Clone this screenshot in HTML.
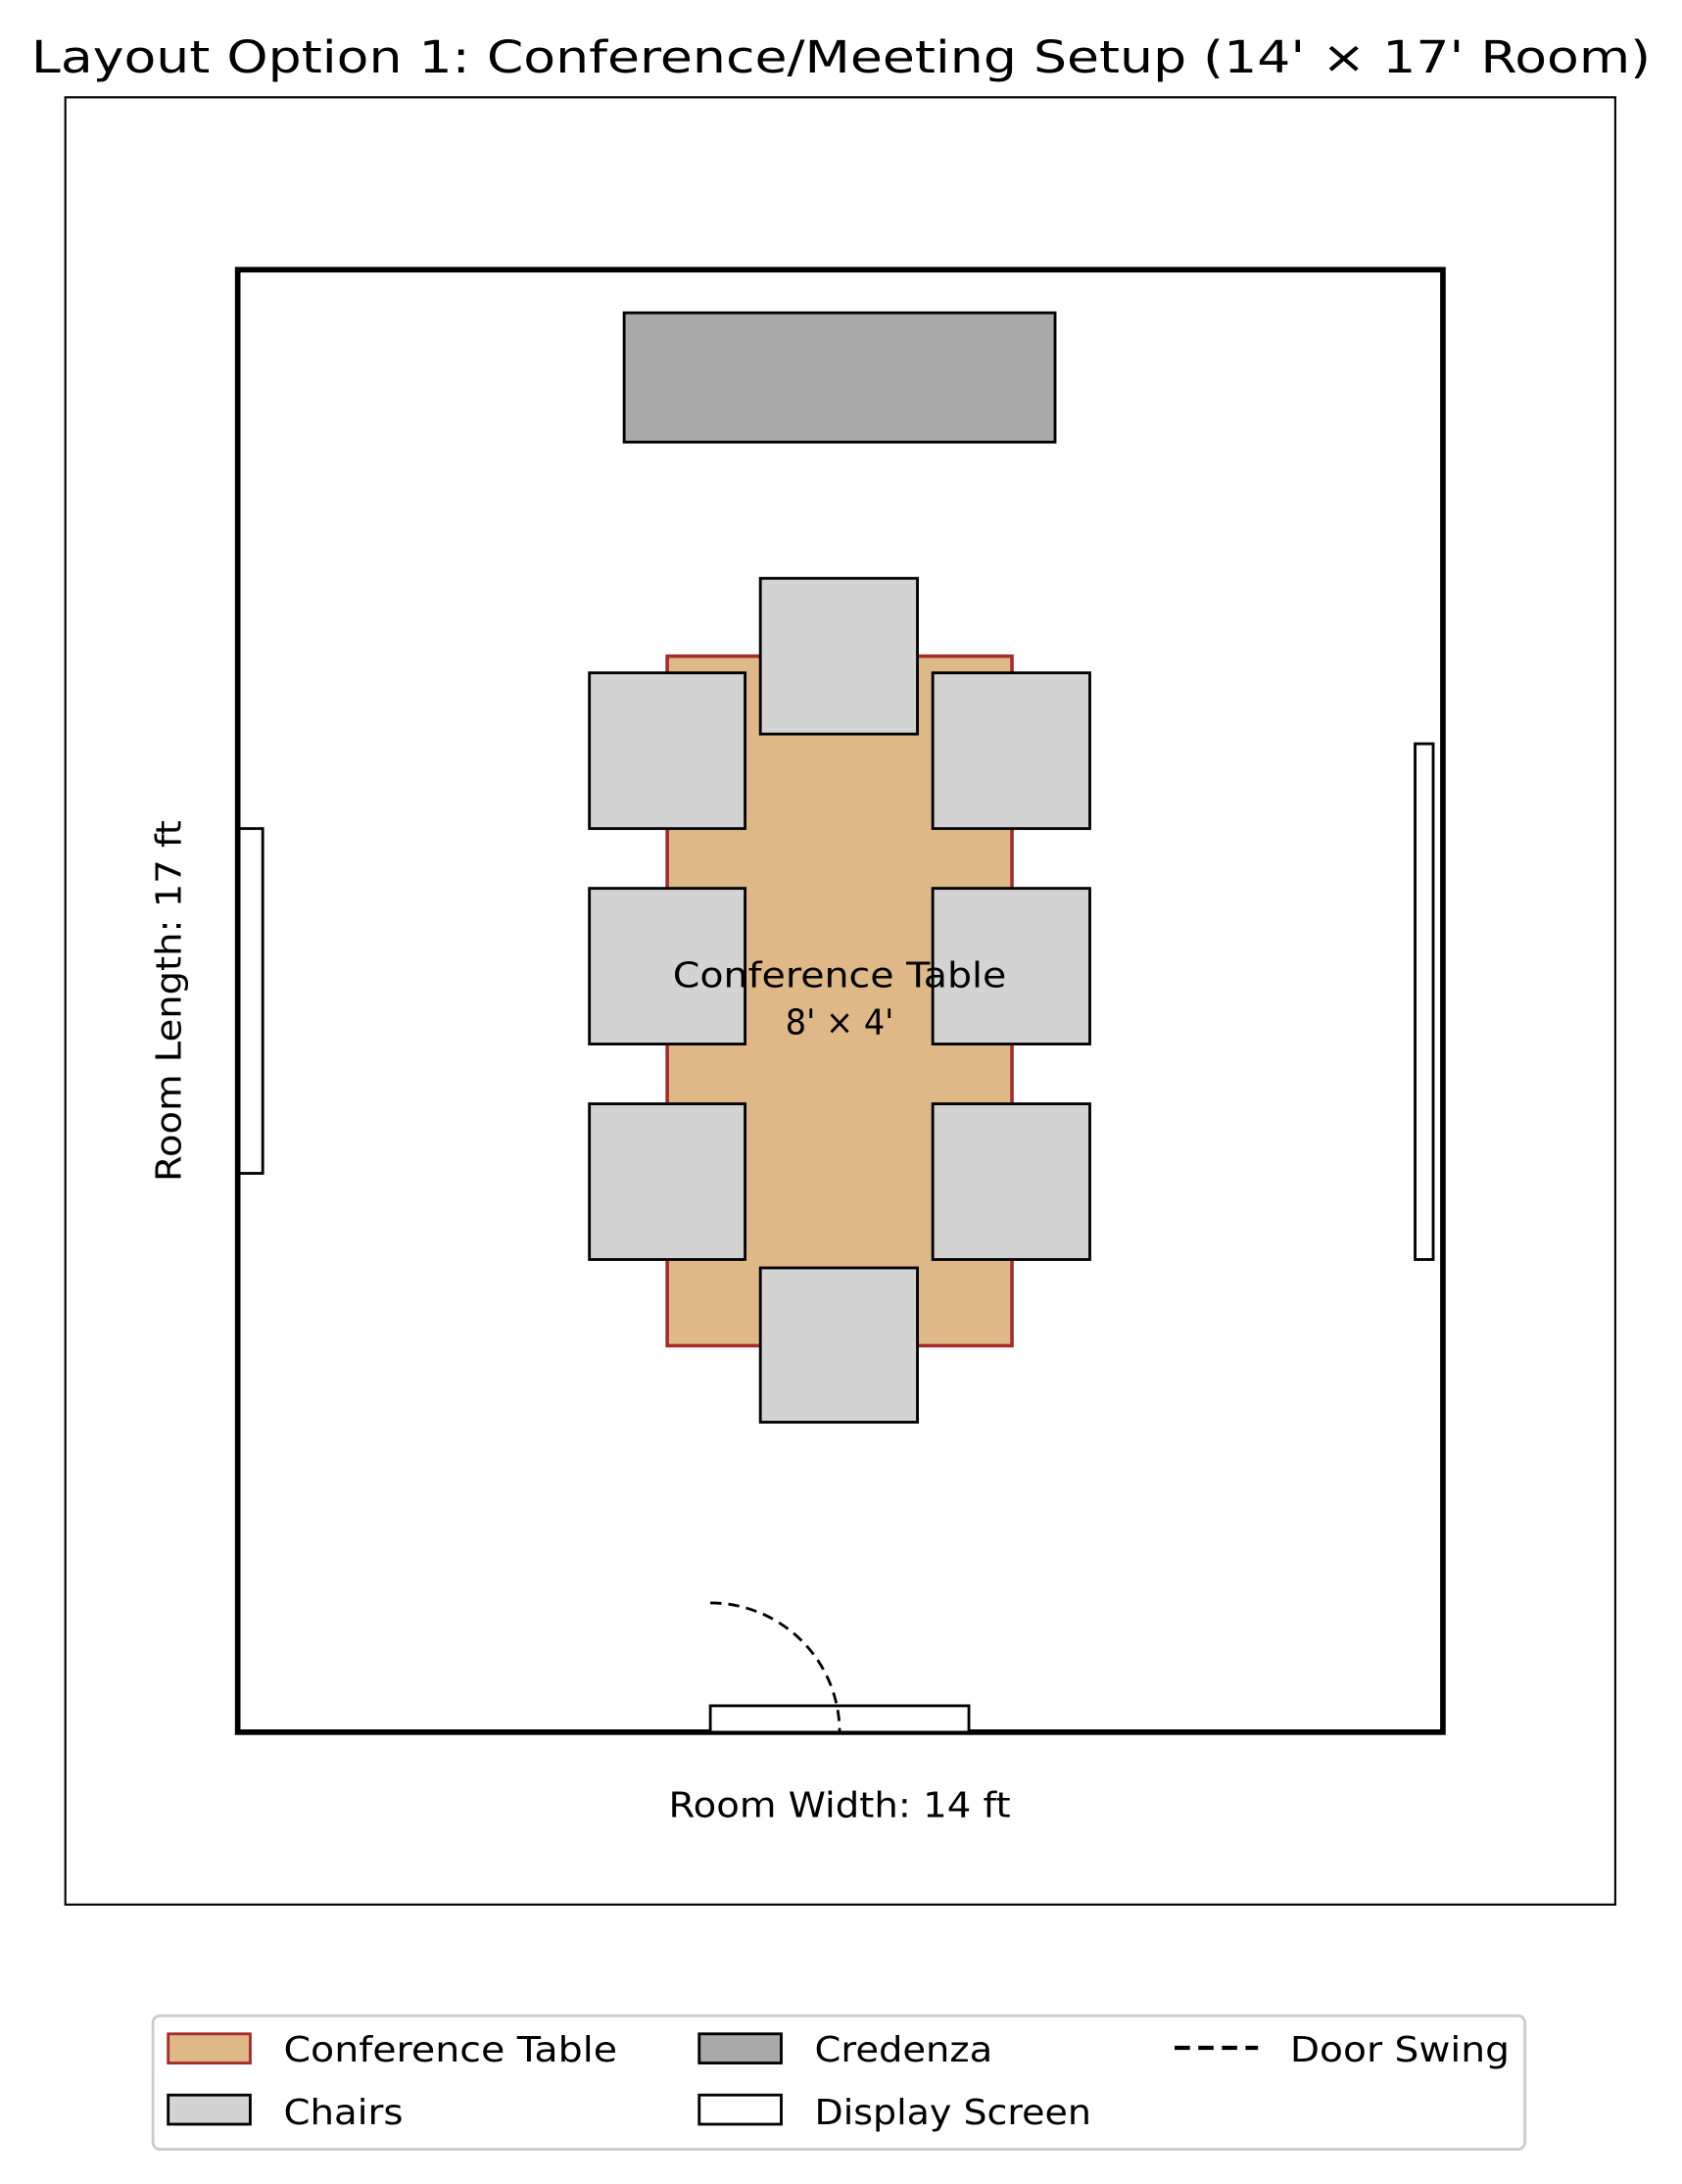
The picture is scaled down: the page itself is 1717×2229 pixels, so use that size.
<!DOCTYPE html>
<html><head><meta charset="utf-8"><style>html,body{margin:0;padding:0;background:#fff}svg{display:block}</style></head>
<body>
<svg width="1717" height="2229" viewBox="0 0 1210 1571" preserveAspectRatio="none" xmlns="http://www.w3.org/2000/svg" font-family="DejaVu Sans, Liberation Sans, sans-serif">
<rect width="1210" height="1571" fill="#fff"/>
<text x="605" y="52" font-size="32" text-anchor="middle" textLength="1165" lengthAdjust="spacingAndGlyphs">Layout Option 1: Conference/Meeting Setup (14' × 17' Room)</text>
<rect x="47" y="70" width="1115" height="1300" fill="none" stroke="#000" stroke-width="1.5"/>
<rect x="171" y="194" width="867" height="1052" fill="none" stroke="#000" stroke-width="4"/>
<rect x="449" y="225" width="310" height="93" fill="#a9a9a9" stroke="#000" stroke-width="2"/>
<rect x="480" y="472" width="248" height="496" fill="#deb887" stroke="#a52a2a" stroke-width="2.5"/>
<g fill="#d3d3d3" stroke="#000" stroke-width="2">
<rect x="547" y="416" width="113" height="112"/>
<rect x="547" y="912" width="113" height="111"/>
<rect x="424" y="484" width="112" height="112"/>
<rect x="424" y="639" width="112" height="112"/>
<rect x="424" y="794" width="112" height="112"/>
<rect x="671" y="484" width="113" height="112"/>
<rect x="671" y="639" width="113" height="112"/>
<rect x="671" y="794" width="113" height="112"/>
</g>
<text x="604" y="710" font-size="25" text-anchor="middle" textLength="240" lengthAdjust="spacingAndGlyphs">Conference Table</text>
<text x="604" y="744" font-size="25" text-anchor="middle" textLength="78" lengthAdjust="spacingAndGlyphs">8' × 4'</text>
<g fill="#fff" stroke="#000" stroke-width="2">
<rect x="172" y="596" width="17" height="248"/>
<rect x="1018" y="535" width="13" height="371"/>
<rect x="511" y="1227" width="186" height="19"/>
</g>
<path d="M511 1153 A93 93 0 0 1 604 1246" fill="none" stroke="#000" stroke-width="2" stroke-dasharray="8,5"/>
<text x="604" y="1307" font-size="25" text-anchor="middle" textLength="246" lengthAdjust="spacingAndGlyphs">Room Width: 14 ft</text>
<text transform="translate(130,720) rotate(-90)" font-size="25" text-anchor="middle" textLength="260" lengthAdjust="spacingAndGlyphs">Room Length: 17 ft</text>
<rect x="110" y="1450" width="987" height="96" rx="5" fill="#fff" stroke="#ccc" stroke-width="2"/>
<rect x="121" y="1463" width="59" height="21" fill="#deb887" stroke="#a52a2a" stroke-width="2"/>
<rect x="121" y="1507" width="59" height="21" fill="#d3d3d3" stroke="#000" stroke-width="2"/>
<rect x="503" y="1463" width="59" height="21" fill="#a9a9a9" stroke="#000" stroke-width="2"/>
<rect x="503" y="1507" width="59" height="21" fill="#fff" stroke="#000" stroke-width="2"/>
<line x1="845" y1="1473" x2="905" y2="1473" stroke="#000" stroke-width="3" stroke-dasharray="11,6"/>
<g font-size="25">
<text x="204" y="1483" textLength="240" lengthAdjust="spacingAndGlyphs">Conference Table</text>
<text x="204" y="1528" textLength="86" lengthAdjust="spacingAndGlyphs">Chairs</text>
<text x="586" y="1483" textLength="128" lengthAdjust="spacingAndGlyphs">Credenza</text>
<text x="586" y="1528" textLength="199" lengthAdjust="spacingAndGlyphs">Display Screen</text>
<text x="928" y="1483" textLength="158" lengthAdjust="spacingAndGlyphs">Door Swing</text>
</g>
</svg>
</body></html>
